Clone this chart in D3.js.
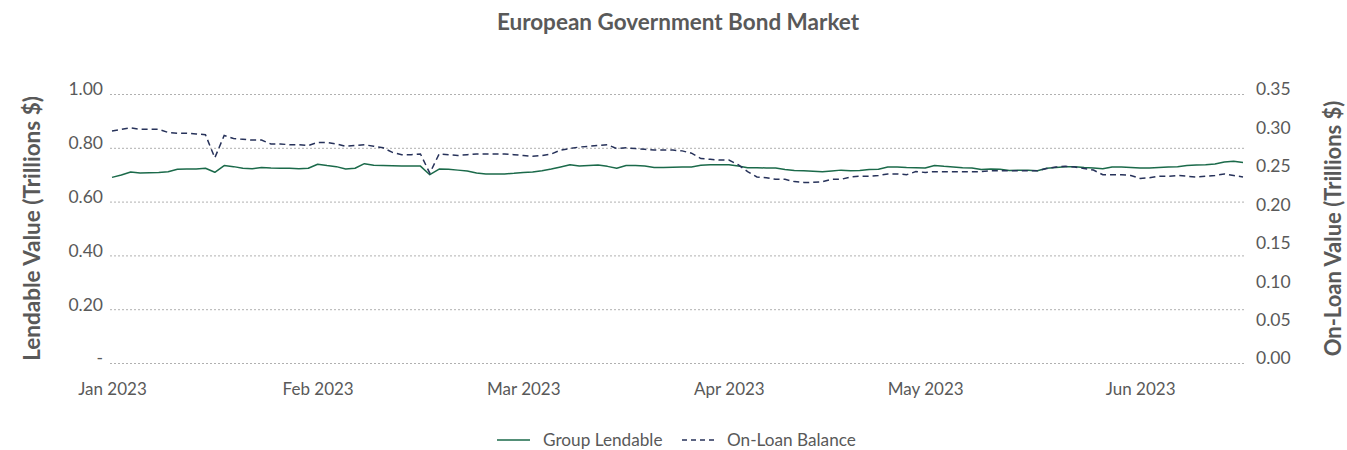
<!DOCTYPE html>
<html>
<head>
<meta charset="utf-8">
<script src="https://cdn.jsdelivr.net/npm/d3@7"></script>
<style>
  html, body { margin: 0; padding: 0; background: #fff; }
  svg { display: block; font-family: Lato, "Open Sans", sans-serif; }
</style>
</head>
<body>
<svg id="chart" width="1347" height="450"></svg>
<script>
// ---------- data ----------
const title = "European Government Bond Market";
const seriesNames = ["Group Lendable", "On-Loan Balance"];
const xTickLabels = ["Jan 2023", "Feb 2023", "Mar 2023", "Apr 2023", "May 2023", "Jun 2023"];
const xTickIndex = [0, 22, 44, 66, 87, 110];
const leftTicks = [0, 0.2, 0.4, 0.6, 0.8, 1.0];
const leftTickLabels = ["-", "0.20", "0.40", "0.60", "0.80", "1.00"];
const rightTicks = [0, 0.05, 0.10, 0.15, 0.20, 0.25, 0.30, 0.35];
const rightTickLabels = ["0.00", "0.05", "0.10", "0.15", "0.20", "0.25", "0.30", "0.35"];

const groupLendable = [
  0.690, 0.699, 0.710, 0.706, 0.707, 0.708, 0.711, 0.720, 0.721, 0.721,
  0.724, 0.709, 0.734, 0.730, 0.724, 0.722, 0.727, 0.725, 0.724, 0.724,
  0.722, 0.724, 0.739, 0.734, 0.730, 0.721, 0.724, 0.741, 0.735, 0.734,
  0.733, 0.732, 0.732, 0.732, 0.700, 0.721, 0.720, 0.717, 0.714, 0.706,
  0.703, 0.703, 0.703, 0.705, 0.708, 0.710, 0.715, 0.721, 0.729, 0.737,
  0.732, 0.734, 0.736, 0.731, 0.724, 0.734, 0.734, 0.732, 0.727, 0.727,
  0.728, 0.729, 0.729, 0.735, 0.737, 0.737, 0.737, 0.732, 0.726, 0.726,
  0.725, 0.725, 0.719, 0.716, 0.715, 0.713, 0.711, 0.714, 0.717, 0.715,
  0.716, 0.719, 0.720, 0.729, 0.729, 0.727, 0.726, 0.725, 0.734, 0.731,
  0.729, 0.726, 0.725, 0.719, 0.721, 0.720, 0.716, 0.717, 0.717, 0.715,
  0.724, 0.727, 0.730, 0.730, 0.727, 0.725, 0.722, 0.729, 0.729, 0.727,
  0.725, 0.725, 0.727, 0.729, 0.730, 0.734, 0.736, 0.737, 0.740, 0.747,
  0.750, 0.745
];
const onLoanBalance = [
  0.302, 0.304, 0.306, 0.304, 0.304, 0.304, 0.300, 0.299, 0.299, 0.298,
  0.297, 0.267, 0.296, 0.292, 0.291, 0.290, 0.290, 0.285, 0.285, 0.284,
  0.284, 0.283, 0.287, 0.287, 0.285, 0.282, 0.283, 0.284, 0.282, 0.280,
  0.274, 0.271, 0.271, 0.272, 0.247, 0.272, 0.271, 0.270, 0.271, 0.272,
  0.272, 0.272, 0.272, 0.271, 0.270, 0.269, 0.270, 0.272, 0.277, 0.279,
  0.281, 0.282, 0.283, 0.284, 0.279, 0.280, 0.279, 0.278, 0.277, 0.277,
  0.277, 0.276, 0.273, 0.266, 0.265, 0.264, 0.264, 0.258, 0.249, 0.242,
  0.241, 0.239, 0.239, 0.236, 0.235, 0.235, 0.236, 0.239, 0.239, 0.242,
  0.243, 0.243, 0.244, 0.246, 0.246, 0.245, 0.249, 0.248, 0.249, 0.249,
  0.249, 0.249, 0.249, 0.249, 0.250, 0.250, 0.250, 0.250, 0.250, 0.250,
  0.253, 0.255, 0.256, 0.255, 0.253, 0.251, 0.245, 0.245, 0.245, 0.244,
  0.240, 0.241, 0.243, 0.243, 0.244, 0.243, 0.242, 0.243, 0.244, 0.246,
  0.244, 0.242
];

// ---------- layout ----------
const svg = d3.select("#chart");
const plot = { left: 110, right: 1245, top: 94, bottom: 363 };
const lineStart = 112, lineEnd = 1243;
const textColor = "#595959";
const green = "#1b6a4a";
const navy = "#27325a";

const x = d3.scaleLinear().domain([0, groupLendable.length - 1]).range([lineStart, lineEnd]);
const yL = d3.scaleLinear().domain([0, 1.0]).range([plot.bottom, plot.top]);
const yR = d3.scaleLinear().domain([0, 0.35]).range([plot.bottom, plot.top]);

// title
svg.append("text")
  .attr("x", 678).attr("y", 30)
  .attr("text-anchor", "middle")
  .attr("font-size", 22.5).attr("font-weight", 700)
  .attr("fill", textColor)
  .text(title);

// grid lines
svg.append("g")
  .attr("transform", `translate(${plot.left},0)`)
  .call(d3.axisLeft(yL).tickValues(leftTicks).tickSize(-(plot.right - plot.left)).tickFormat(""))
  .call(g => g.select(".domain").remove())
  .call(g => g.selectAll("line")
    .attr("stroke", "#b0b0b0").attr("stroke-width", 1).attr("stroke-dasharray", "2,2"));

// left axis labels
const leftAxis = svg.append("g")
  .attr("transform", `translate(${plot.left - 7},0)`)
  .call(d3.axisLeft(yL).tickValues(leftTicks).tickSize(0).tickPadding(0)
    .tickFormat((d, i) => leftTickLabels[i]));
leftAxis.select(".domain").remove();
leftAxis.selectAll("text")
  .attr("font-family", "Lato, sans-serif").attr("font-size", 17.5)
  .attr("fill", textColor).attr("dy", "0.05em");

// right axis labels
const rightAxis = svg.append("g")
  .attr("transform", `translate(${plot.right + 11},0)`)
  .call(d3.axisRight(yR).tickValues(rightTicks).tickSize(0).tickPadding(0)
    .tickFormat((d, i) => rightTickLabels[i]));
rightAxis.select(".domain").remove();
rightAxis.selectAll("text")
  .attr("font-family", "Lato, sans-serif").attr("font-size", 17.5)
  .attr("fill", textColor).attr("dy", "0.05em");

// x axis labels
const xAxis = svg.append("g")
  .attr("transform", `translate(0,${plot.bottom})`)
  .call(d3.axisBottom(x).tickValues(xTickIndex).tickSize(0).tickPadding(20)
    .tickFormat((d, i) => xTickLabels[i]));
xAxis.select(".domain").remove();
xAxis.selectAll("text")
  .attr("font-family", "Lato, sans-serif").attr("font-size", 17)
  .attr("fill", textColor);

// axis titles
svg.append("text")
  .attr("transform", `translate(40,${(plot.top + plot.bottom) / 2}) rotate(-90)`)
  .attr("text-anchor", "middle")
  .attr("font-size", 22.5).attr("font-weight", 700)
  .attr("fill", textColor)
  .text("Lendable Value (Trillions $)");
svg.append("text")
  .attr("transform", `translate(1341,${(plot.top + plot.bottom) / 2}) rotate(-90)`)
  .attr("text-anchor", "middle")
  .attr("font-size", 22).attr("font-weight", 700)
  .attr("fill", textColor)
  .text("On-Loan Value (Trillions $)");

// lines
const lineL = d3.line().x((d, i) => x(i)).y(d => yL(d));
const lineR = d3.line().x((d, i) => x(i)).y(d => yR(d));
svg.append("path").datum(groupLendable)
  .attr("d", lineL).attr("fill", "none")
  .attr("stroke", green).attr("stroke-width", 1.5).attr("stroke-linejoin", "round");
svg.append("path").datum(onLoanBalance)
  .attr("d", lineR).attr("fill", "none")
  .attr("stroke", navy).attr("stroke-width", 1.5).attr("stroke-dasharray", "6,4");

// legend
const legend = svg.append("g").attr("transform", "translate(0,440)");
legend.append("line").attr("x1", 497).attr("x2", 530).attr("y1", 0).attr("y2", 0)
  .attr("stroke", green).attr("stroke-width", 1.5);
legend.append("text").attr("x", 543).attr("y", 0).attr("dy", "0.35em")
  .attr("font-size", 17.2).attr("fill", textColor).text(seriesNames[0]);
legend.append("line").attr("x1", 682).attr("x2", 715).attr("y1", 0).attr("y2", 0)
  .attr("stroke", navy).attr("stroke-width", 1.5).attr("stroke-dasharray", "5,4");
legend.append("text").attr("x", 727).attr("y", 0).attr("dy", "0.35em")
  .attr("font-size", 17.2).attr("fill", textColor).text(seriesNames[1]);
</script>
</body>
</html>
